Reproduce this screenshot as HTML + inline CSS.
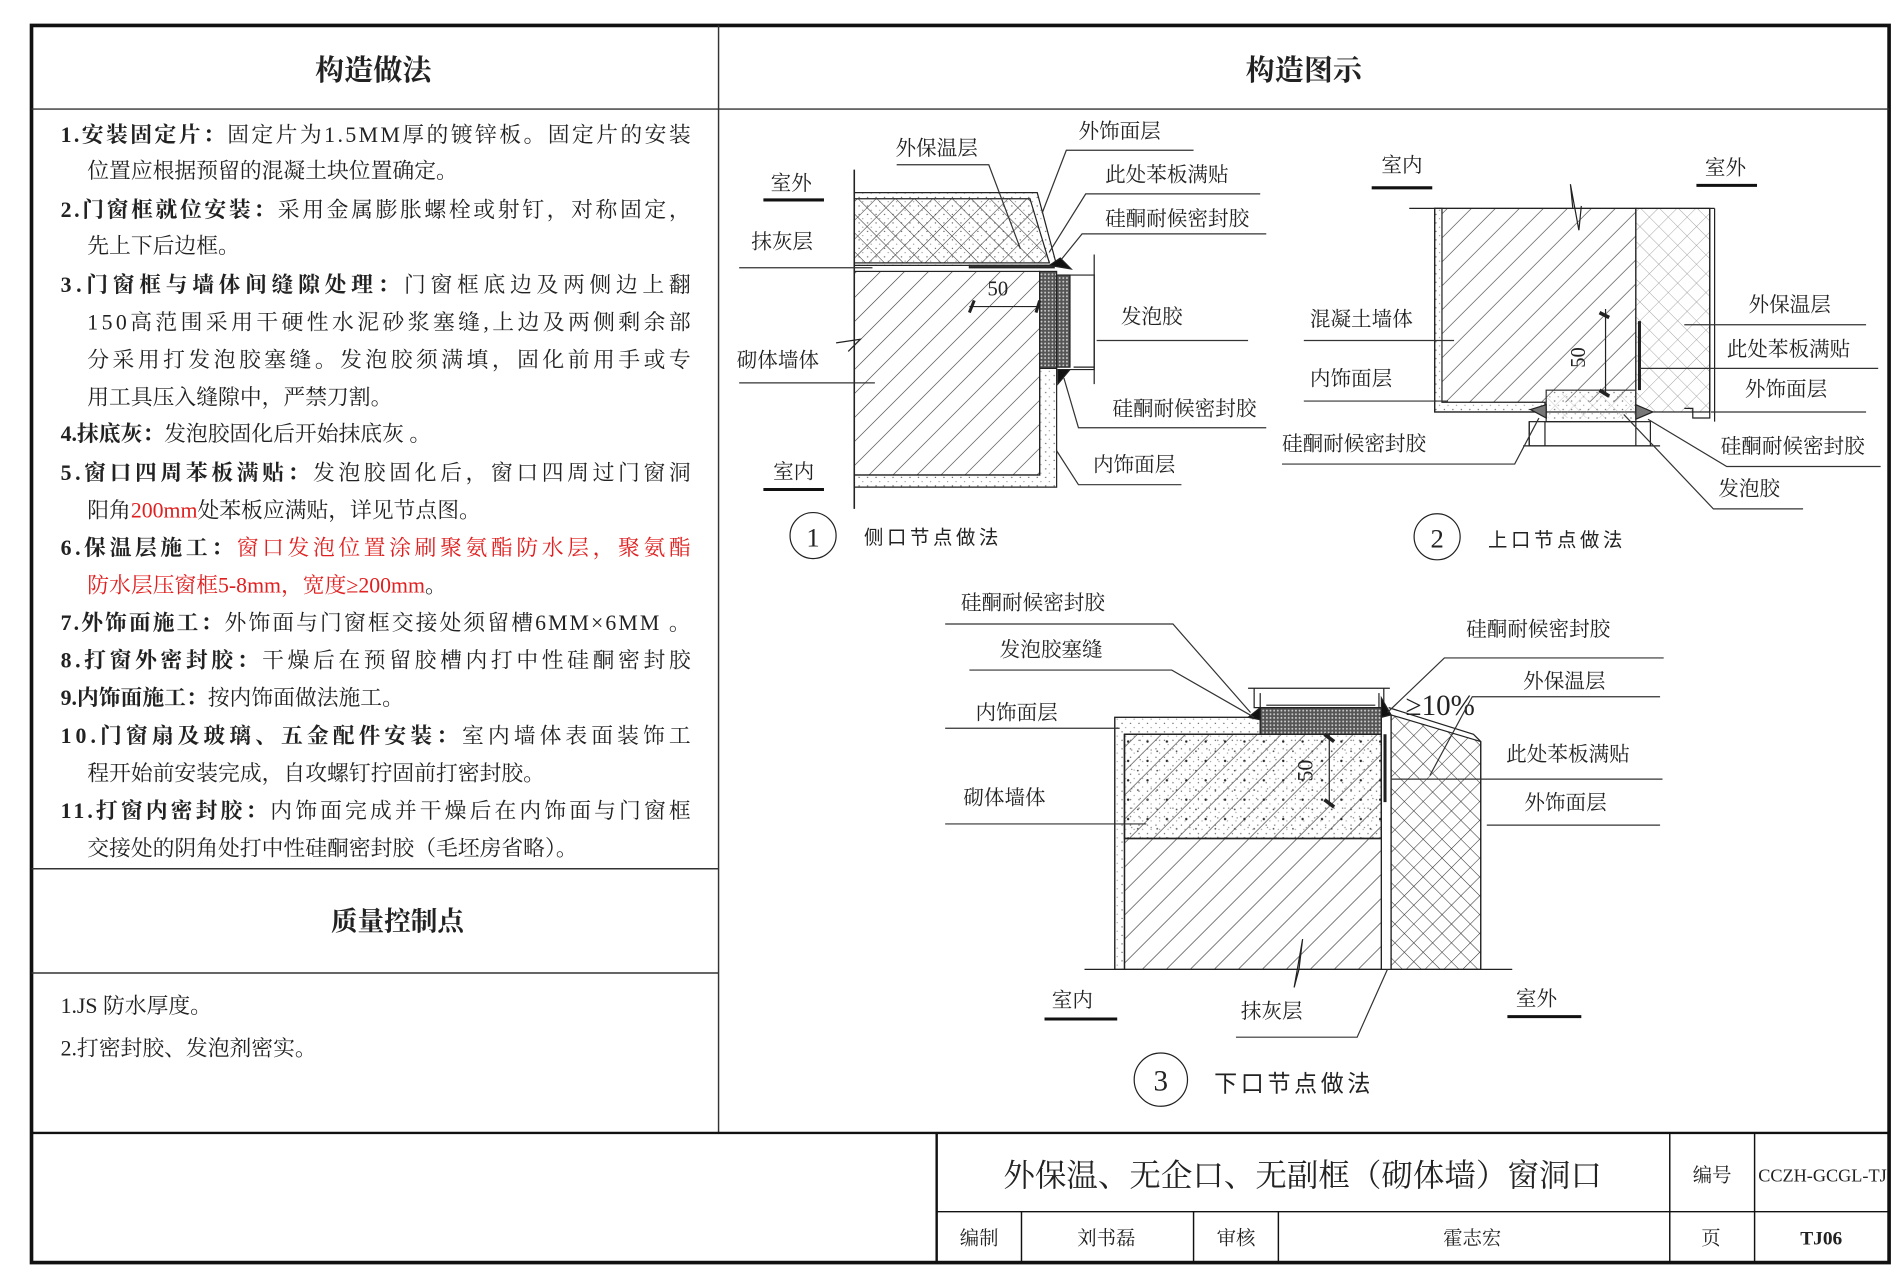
<!DOCTYPE html>
<html><head><meta charset="utf-8"><style>
html,body{margin:0;padding:0;background:#fff;}
svg{display:block;}
text{font-family:"Liberation Serif","Noto Serif CJK SC","Noto Sans CJK SC",serif;fill:#222;}
.s{font-family:"Liberation Sans","Noto Sans CJK SC",sans-serif;}
.b{font-weight:bold;}
.r{fill:#e02020;}
</style></head><body>
<svg width="1900" height="1273" viewBox="0 0 1568 1050.6" preserveAspectRatio="none" xmlns="http://www.w3.org/2000/svg">
<defs>
<pattern id="diag" patternUnits="userSpaceOnUse" width="14" height="14" patternTransform="rotate(45)">
<line x1="0" y1="0" x2="0" y2="14" stroke="#333" stroke-width="1"/></pattern>
<pattern id="cross" patternUnits="userSpaceOnUse" width="11" height="11" patternTransform="rotate(45)">
<line x1="0" y1="0" x2="0" y2="11" stroke="#333" stroke-width="0.9"/><line x1="0" y1="0" x2="11" y2="0" stroke="#333" stroke-width="0.9"/></pattern>
<pattern id="crossl" patternUnits="userSpaceOnUse" width="11" height="11" patternTransform="rotate(45)">
<line x1="0" y1="0" x2="0" y2="11" stroke="#999" stroke-width="0.7"/><line x1="0" y1="0" x2="11" y2="0" stroke="#999" stroke-width="0.7"/></pattern>
<pattern id="dots" patternUnits="userSpaceOnUse" width="7" height="7">
<circle cx="2" cy="2" r="0.6" fill="#666"/><circle cx="5" cy="5.5" r="0.5" fill="#888"/></pattern>
<pattern id="foam" patternUnits="userSpaceOnUse" width="3" height="3">
<rect width="3" height="3" fill="#555"/><circle cx="1.5" cy="1.5" r="0.8" fill="#ccc"/></pattern>
<pattern id="conc" patternUnits="userSpaceOnUse" width="16" height="16">
<circle cx="3" cy="4" r="1" fill="#222"/><circle cx="11" cy="12" r="0.7" fill="#444"/><circle cx="13" cy="3" r="0.5" fill="#666"/><circle cx="6" cy="11" r="0.5" fill="#666"/></pattern>
</defs>

<!-- frame -->
<rect x="26" y="21" width="1533" height="1021" fill="none" stroke="#111" stroke-width="3"/>
<line x1="593" y1="21" x2="593" y2="935" stroke="#333" stroke-width="1.2"/>
<line x1="26" y1="90" x2="1559" y2="90" stroke="#333" stroke-width="1.2"/>
<line x1="26" y1="717" x2="593" y2="717" stroke="#333" stroke-width="1.2"/>
<line x1="26" y1="803" x2="593" y2="803" stroke="#333" stroke-width="1.2"/>
<line x1="26" y1="935" x2="1559" y2="935" stroke="#111" stroke-width="2"/>
<text x="308" y="66" font-size="24" class="b" text-anchor="middle">构造做法</text>
<text x="1076" y="66" font-size="24" class="b" text-anchor="middle">构造图示</text>

<!-- left text -->
<g font-size="18">
<text x="50" y="117" textLength="520" lengthAdjust="spacing"><tspan class="b">1.安装固定片：</tspan>固定片为1.5MM厚的镀锌板。固定片的安装</text>
<text x="72" y="147">位置应根据预留的混凝土块位置确定。</text>
<text x="50" y="179" textLength="520" lengthAdjust="spacing"><tspan class="b">2.门窗框就位安装：</tspan>采用金属膨胀螺栓或射钉，对称固定，</text>
<text x="72" y="209">先上下后边框。</text>
<text x="50" y="241" textLength="520" lengthAdjust="spacing"><tspan class="b">3.门窗框与墙体间缝隙处理：</tspan>门窗框底边及两侧边上翻</text>
<text x="72" y="272" textLength="498" lengthAdjust="spacing">150高范围采用干硬性水泥砂浆塞缝,上边及两侧剩余部</text>
<text x="72" y="303" textLength="498" lengthAdjust="spacing">分采用打发泡胶塞缝。发泡胶须满填，固化前用手或专</text>
<text x="72" y="334">用工具压入缝隙中，严禁刀割。</text>
<text x="50" y="364"><tspan class="b">4.抹底灰：</tspan>发泡胶固化后开始抹底灰 。</text>
<text x="50" y="396" textLength="520" lengthAdjust="spacing"><tspan class="b">5.窗口四周苯板满贴：</tspan>发泡胶固化后，窗口四周过门窗洞</text>
<text x="72" y="427">阳角<tspan class="r">200mm</tspan>处苯板应满贴，详见节点图。</text>
<text x="50" y="458" textLength="520" lengthAdjust="spacing"><tspan class="b">6.保温层施工：</tspan><tspan class="r">窗口发泡位置涂刷聚氨酯防水层，聚氨酯</tspan></text>
<text x="72" y="489"><tspan class="r">防水层压窗框5-8mm，宽度≥200mm</tspan>。</text>
<text x="50" y="520" textLength="520" lengthAdjust="spacing"><tspan class="b">7.外饰面施工：</tspan>外饰面与门窗框交接处须留槽6MM×6MM 。</text>
<text x="50" y="551" textLength="520" lengthAdjust="spacing"><tspan class="b">8.打窗外密封胶：</tspan>干燥后在预留胶槽内打中性硅酮密封胶</text>
<text x="50" y="582"><tspan class="b">9.内饰面施工：</tspan>按内饰面做法施工。</text>
<text x="50" y="613" textLength="520" lengthAdjust="spacing"><tspan class="b">10.门窗扇及玻璃、五金配件安装：</tspan>室内墙体表面装饰工</text>
<text x="72" y="644">程开始前安装完成，自攻螺钉拧固前打密封胶。</text>
<text x="50" y="675" textLength="520" lengthAdjust="spacing"><tspan class="b">11.打窗内密封胶：</tspan>内饰面完成并干燥后在内饰面与门窗框</text>
<text x="72" y="706">交接处的阴角处打中性硅酮密封胶（毛坯房省略）。</text>
</g>
<text x="328" y="768" font-size="22" class="b" text-anchor="middle">质量控制点</text>
<text x="50" y="836" font-size="18">1.JS 防水厚度。</text>
<text x="50" y="871" font-size="18">2.打密封胶、发泡剂密实。</text>

<!-- title block -->
<g stroke="#111" fill="none">
<line x1="773" y1="935" x2="773" y2="1042" stroke-width="2"/>
<line x1="773" y1="1000" x2="1559" y2="1000" stroke-width="1.2"/>
<line x1="1378" y1="935" x2="1378" y2="1042" stroke-width="1.2"/>
<line x1="1448" y1="935" x2="1448" y2="1042" stroke-width="1.2"/>
<line x1="843" y1="1000" x2="843" y2="1042" stroke-width="1.2"/>
<line x1="985" y1="1000" x2="985" y2="1042" stroke-width="1.2"/>
<line x1="1055" y1="1000" x2="1055" y2="1042" stroke-width="1.2"/>
</g>
<text x="1075" y="979" font-size="26" text-anchor="middle">外保温、无企口、无副框（砌体墙）窗洞口</text>
<text x="1413" y="975" font-size="16" text-anchor="middle">编号</text>
<text x="1504" y="975" font-size="15" text-anchor="middle" textLength="106" lengthAdjust="spacingAndGlyphs">CCZH-GCGL-TJ</text>
<g font-size="16" text-anchor="middle">
<text x="808" y="1027">编制</text><text x="913" y="1027">刘书磊</text>
<text x="1020" y="1027">审核</text><text x="1215" y="1027">霍志宏</text>
<text x="1412" y="1027">页</text><text x="1503" y="1027" class="b">TJ06</text>
</g>

<!-- ===== Diagram 1 ===== -->
<g stroke="#222" stroke-width="1">
<line x1="705" y1="140" x2="705" y2="420" stroke-width="1.3"/>
<polygon points="705,159 856,159 872,219 705,219" fill="url(#dots)"/>
<polygon points="705,164 850,164 866,217 705,217" fill="url(#cross)"/>
<line x1="705" y1="217" x2="866" y2="217"/>
<rect x="800" y="219" width="70" height="2" fill="#333"/>
<rect x="705" y="224" width="153" height="168" fill="url(#diag)"/>
<rect x="858" y="224" width="14" height="80" fill="url(#foam)"/>
<rect x="872" y="227" width="11" height="76" fill="url(#foam)"/>
<polygon points="858,304 872,304 872,402 705,402 705,392 858,392" fill="url(#dots)"/>
<polyline points="883,227 903,227 903,305 883,305" fill="none"/>
<line x1="903" y1="210" x2="903" y2="317"/>
<line x1="886" y1="303" x2="903" y2="303"/>
<polygon points="866,219 884,222 875,213" fill="#111"/>
<polygon points="873,305 883,305 873,317" fill="#111"/>
<line x1="800" y1="253" x2="857" y2="253"/>
<line x1="804" y1="248" x2="800" y2="258" stroke-width="2.5"/>
<line x1="858" y1="248" x2="855" y2="258" stroke-width="2.5"/>
<polyline points="690,283 710,280 700,290" fill="none"/>
</g>
<text x="815" y="244" font-size="17">50</text>
<g font-size="17">
<text x="636" y="157">室外</text><line x1="630" y1="165" x2="680" y2="165" stroke="#111" stroke-width="2.5"/>
<text x="620" y="205">抹灰层</text><line x1="610" y1="221" x2="720" y2="221" stroke="#333"/>
<text x="608" y="303">砌体墙体</text><line x1="610" y1="316" x2="722" y2="316" stroke="#333"/>
<text x="638" y="395">室内</text><line x1="630" y1="404" x2="680" y2="404" stroke="#111" stroke-width="2.5"/>
<text x="739" y="128">外保温层</text><polyline points="740,136 816,136 842,205" fill="none" stroke="#333"/>
<text x="890" y="114">外饰面层</text><polyline points="985,124 880,124 860,176" fill="none" stroke="#333"/>
<text x="912" y="150">此处苯板满贴</text><polyline points="1040,160 896,160 866,208" fill="none" stroke="#333"/>
<text x="912" y="186">硅酮耐候密封胶</text><polyline points="1045,193 893,193 876,214" fill="none" stroke="#333"/>
<text x="925" y="267">发泡胶</text><line x1="905" y1="281" x2="1030" y2="281" stroke="#333"/>
<text x="918" y="343">硅酮耐候密封胶</text><polyline points="1045,353 890,353 878,312" fill="none" stroke="#333"/>
<text x="902" y="389">内饰面层</text><polyline points="975,400 890,400 872,372" fill="none" stroke="#333"/>
</g>
<circle cx="671" cy="442" r="19" fill="none" stroke="#222"/>
<text x="671" y="451" font-size="22" text-anchor="middle">1</text>
<text x="713" y="449" font-size="16" class="s" letter-spacing="3">侧口节点做法</text>

<!-- ===== Diagram 2 ===== -->
<g stroke="#222" stroke-width="1">
<line x1="1163" y1="172" x2="1415" y2="172"/>
<polygon points="1184,172 1350,172 1350,332 1190,332 1190,172" fill="url(#diag)" stroke="none"/>
<polygon points="1184,172 1190,172 1190,332 1275,332 1275,340 1184,340" fill="url(#dots)"/>
<rect x="1184" y="172" width="166" height="168" fill="none"/>
<rect x="1350" y="172" width="61" height="168" fill="url(#crossl)"/>
<polyline points="1411,172 1411,345 1397,345 1397,337 1390,337" fill="none"/>
<line x1="1415" y1="172" x2="1415" y2="348"/>
<rect x="1276" y="322" width="74" height="26" fill="url(#dots)" stroke="#333"/>
<rect x="1277" y="325" width="72" height="20" fill="url(#crossl)" stroke="none" opacity="0.6"/>
<rect x="1262" y="348" width="100" height="20" fill="none"/>
<line x1="1262" y1="348" x2="1262" y2="368"/><line x1="1275" y1="348" x2="1275" y2="368"/>
<line x1="1350" y1="348" x2="1350" y2="368"/>
<line x1="1257" y1="368" x2="1370" y2="368"/>
<line x1="1353" y1="265" x2="1353" y2="322" stroke-width="2.5"/>
<polyline points="1298,172 1296,152 1303,190 1305,170" fill="none"/>
<line x1="1325" y1="255" x2="1325" y2="325"/>
<line x1="1320" y1="258" x2="1328" y2="262" stroke-width="3"/>
<line x1="1320" y1="322" x2="1328" y2="327" stroke-width="3"/>
<polygon points="1263,338 1276,334 1276,345" fill="#777"/>
<polygon points="1350,334 1364,340 1350,346" fill="#777"/>
</g>
<text x="1308" y="295" font-size="17" transform="rotate(-90 1308 295)" text-anchor="middle">50</text>
<g font-size="17">
<text x="1140" y="142">室内</text><line x1="1132" y1="155" x2="1182" y2="155" stroke="#111" stroke-width="2.5"/>
<text x="1407" y="144">室外</text><line x1="1400" y1="153" x2="1450" y2="153" stroke="#111" stroke-width="2.5"/>
<text x="1081" y="269">混凝土墙体</text><line x1="1076" y1="281" x2="1200" y2="281" stroke="#333"/>
<text x="1081" y="318">内饰面层</text><line x1="1076" y1="331" x2="1195" y2="331" stroke="#333"/>
<text x="1058" y="372">硅酮耐候密封胶</text><polyline points="1058,383 1250,383 1270,345" fill="none" stroke="#333"/>
<text x="1443" y="257">外保温层</text><line x1="1390" y1="268" x2="1540" y2="268" stroke="#333"/>
<text x="1425" y="294">此处苯板满贴</text><line x1="1353" y1="304" x2="1550" y2="304" stroke="#333"/>
<text x="1440" y="327">外饰面层</text><line x1="1412" y1="340" x2="1540" y2="340" stroke="#333"/>
<text x="1420" y="374">硅酮耐候密封胶</text><polyline points="1552,385 1425,385 1360,346" fill="none" stroke="#333"/>
<text x="1418" y="409">发泡胶</text><polyline points="1488,420 1414,420 1340,342" fill="none" stroke="#333"/>
</g>
<circle cx="1186" cy="443" r="19" fill="none" stroke="#222"/>
<text x="1186" y="452" font-size="22" text-anchor="middle">2</text>
<text x="1228" y="451" font-size="16" class="s" letter-spacing="3">上口节点做法</text>

<!-- ===== Diagram 3 ===== -->
<g stroke="#222" stroke-width="1">
<polygon points="920,592 1040,592 1040,606 928,606 928,800 920,800" fill="url(#dots)"/>
<rect x="928" y="606" width="212" height="86" fill="url(#diag)"/>
<rect x="928" y="606" width="212" height="86" fill="url(#conc)"/>
<rect x="928" y="606" width="212" height="86" fill="url(#dots)"/>
<rect x="928" y="692" width="212" height="108" fill="url(#diag)"/>
<polyline points="920,800 920,592 1040,592" fill="none"/>
<line x1="928" y1="606" x2="928" y2="800"/>
<line x1="928" y1="606" x2="1140" y2="606"/>
<line x1="928" y1="692" x2="1140" y2="692"/>
<line x1="1140" y1="606" x2="1140" y2="800"/>
<rect x="1040" y="584" width="100" height="22" fill="url(#foam)"/>
<polygon points="1148,590 1222,612 1222,800 1148,800" fill="url(#cross)"/>
<polyline points="1146,584 1216,606 1222,612 1222,800" fill="none"/>
<line x1="1148" y1="590" x2="1148" y2="800"/>
<line x1="1143" y1="606" x2="1143" y2="662" stroke-width="2.5"/>
<polyline points="1035,568 1035,584 1142,584 1142,568" fill="none"/>
<line x1="1030" y1="568" x2="1147" y2="568"/>
<line x1="1040" y1="572" x2="1040" y2="584"/><line x1="1138" y1="572" x2="1138" y2="584"/>
<line x1="1045" y1="582" x2="1135" y2="582"/>
<polygon points="1030,592 1040,584 1040,594" fill="#111"/>
<polygon points="1140,576 1148,590 1140,592" fill="#111"/>
<line x1="1097" y1="605" x2="1097" y2="665"/>
<line x1="1093" y1="606" x2="1101" y2="612" stroke-width="3"/>
<line x1="1093" y1="660" x2="1101" y2="666" stroke-width="3"/>
<line x1="895" y1="800" x2="1248" y2="800"/>
<polyline points="1072,800 1075,775 1068,815 1072,800" fill="none"/>
</g>
<text x="1083" y="636" font-size="18" transform="rotate(-90 1083 636)" text-anchor="middle">50</text>
<text x="1160" y="590" font-size="24">≥10%</text>
<g font-size="17">
<text x="793" y="503">硅酮耐候密封胶</text><polyline points="780,515 968,515 1032,588" fill="none" stroke="#333"/>
<text x="825" y="542">发泡胶塞缝</text><polyline points="800,553 967,553 1035,592" fill="none" stroke="#333"/>
<text x="805" y="594">内饰面层</text><line x1="780" y1="601" x2="924" y2="601" stroke="#333"/>
<text x="795" y="664">砌体墙体</text><line x1="780" y1="680" x2="946" y2="680" stroke="#333"/>
<text x="1210" y="525">硅酮耐候密封胶</text><polyline points="1373,543 1192,543 1145,588" fill="none" stroke="#333"/>
<text x="1257" y="568">外保温层</text><polyline points="1370,575 1215,575 1180,640" fill="none" stroke="#333"/>
<text x="1243" y="628">此处苯板满贴</text><line x1="1148" y1="643" x2="1372" y2="643" stroke="#333"/>
<text x="1258" y="668">外饰面层</text><line x1="1227" y1="681" x2="1370" y2="681" stroke="#333"/>
<text x="868" y="831">室内</text><line x1="862" y1="841" x2="922" y2="841" stroke="#111" stroke-width="2.5"/>
<text x="1024" y="840">抹灰层</text><polyline points="1020,856 1120,856 1145,800" fill="none" stroke="#333"/>
<text x="1251" y="830">室外</text><line x1="1244" y1="839" x2="1305" y2="839" stroke="#111" stroke-width="2.5"/>
</g>
<circle cx="958" cy="891" r="22" fill="none" stroke="#222"/>
<text x="958" y="900" font-size="24" text-anchor="middle">3</text>
<text x="1002" y="901" font-size="19" class="s" letter-spacing="3">下口节点做法</text>
</svg>
</body></html>
